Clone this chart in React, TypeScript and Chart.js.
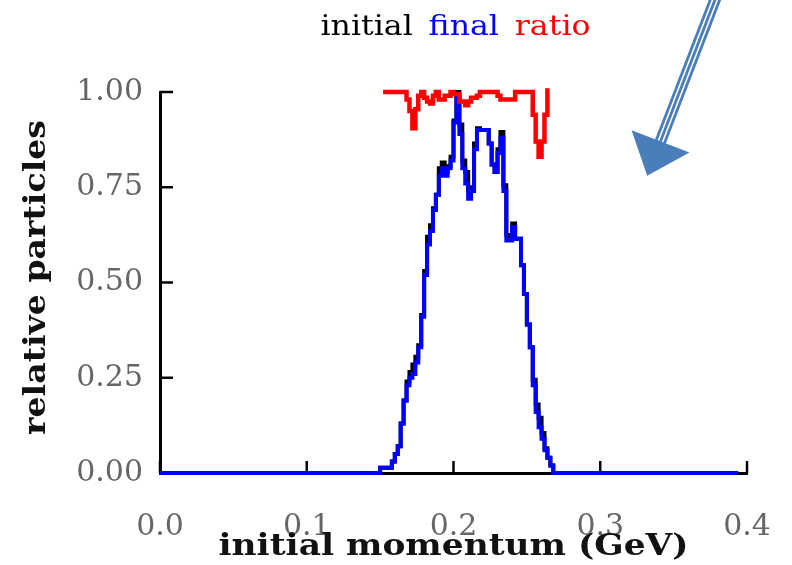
import React, { useEffect, useRef } from "react";
import { Chart, registerables } from "chart.js";

Chart.register(...registerables);

// ---- axes ----
const xTickValues = [0, 0.1, 0.2, 0.3, 0.4];
const yTickValues = [0, 0.25, 0.5, 0.75, 1];
const xTitle = "initial momentum (GeV)";
const yTitle = "relative particles";

// ---- histogram binning ----
const binStart = 0.15;
const binWidth = 0.002;
const baselineEnd = 0.394;

// final (blue) relative particles per bin, starting at binStart
const finalValues = [
  0.014, 0.014, 0.014, 0.014, 0.03, 0.05, 0.07, 0.13, 0.19, 0.23,
  0.25, 0.26, 0.29, 0.33, 0.41, 0.52, 0.6, 0.635, 0.69, 0.73,
  0.78, 0.8, 0.78, 0.8, 0.82, 0.92, 0.985, 0.89, 0.8, 0.76,
  0.72, 0.74, 0.85, 0.9, 0.9, 0.9, 0.9, 0.865, 0.81, 0.79,
  0.84, 0.88, 0.74, 0.61, 0.61, 0.645, 0.615, 0.615, 0.545, 0.47,
  0.39, 0.33, 0.23, 0.16, 0.12, 0.09, 0.06, 0.04, 0.02,
];

// initial (black) relative particles per bin, starting at binStart
const initialValues = [
  0.014, 0.014, 0.014, 0.014, 0.03, 0.05, 0.07, 0.13, 0.19, 0.24,
  0.265, 0.285, 0.305, 0.335, 0.415, 0.53, 0.62, 0.65, 0.695, 0.73,
  0.8, 0.815, 0.79, 0.805, 0.83, 0.925, 1.0, 0.915, 0.82, 0.79,
  0.74, 0.75, 0.865, 0.905, 0.9, 0.9, 0.9, 0.865, 0.81, 0.79,
  0.85, 0.895, 0.755, 0.625, 0.62, 0.655, 0.615, 0.615, 0.545, 0.47,
  0.39, 0.33, 0.245, 0.18, 0.145, 0.105, 0.065, 0.04, 0.02,
];

// ratio (red) per bin, starting at ratioStart
const ratioStart = 0.152;
const ratioValues = [
  1.0, 1.0, 1.0, 1.0, 1.0, 1.0, 1.0, 1.0,
  0.98, 0.95, 0.905, 0.955, 0.99, 1.0, 0.985, 0.975, 0.97, 0.99,
  1.0, 0.98, 0.98, 0.99, 0.99, 1.0, 0.995, 0.995, 0.975, 0.975,
  0.965, 0.975, 0.985, 0.985, 0.99, 1.0, 1.0, 1.0, 1.0, 1.0,
  1.0, 0.99, 0.98, 0.98, 0.98, 0.98, 0.98, 1.0, 1.0, 1.0,
  1.0, 1.0, 1.0, 0.94, 0.87, 0.83, 0.87, 0.94, 1.01,
];

const legendItems = [
  { text: "initial", color: "#000000" },
  { text: "final", color: "#0000ff" },
  { text: "ratio", color: "#ff0000" },
];

// annotation arrow, in data coordinates
const arrowTail = { x: 0.38, y: 1.26 };
const arrowTip = { x: 0.332, y: 0.78 };

const SERIF = "'DejaVu Serif', serif";

function histogramPoints(start: number, width: number, values: number[]) {
  const pts: { x: number; y: number }[] = [{ x: 0, y: 0 }];
  values.forEach((v, i) => pts.push({ x: start + i * width, y: v }));
  pts.push({ x: start + values.length * width, y: 0 });
  pts.push({ x: baselineEnd, y: 0 });
  return pts;
}

function ratioPoints(start: number, width: number, values: number[]) {
  return values.map((v, i) => ({ x: start + i * width, y: v }));
}

// draw text horizontally squeezed/stretched to a given width
function fittedText(
  ctx: CanvasRenderingContext2D,
  text: string,
  cx: number,
  cy: number,
  width: number,
  font: string,
  color: string,
  rotate = 0
) {
  ctx.save();
  ctx.font = font;
  ctx.fillStyle = color;
  ctx.textAlign = "center";
  ctx.textBaseline = "middle";
  const w = ctx.measureText(text).width;
  ctx.translate(cx, cy);
  if (rotate) ctx.rotate(rotate);
  ctx.scale(width / w, 1);
  ctx.fillText(text, 0, 0);
  ctx.restore();
}

const decorPlugin = {
  id: "decor",
  beforeDatasetsDraw(chart: any) {
    const { ctx, scales } = chart;
    const x = scales.x;
    const y = scales.y;
    ctx.save();
    ctx.strokeStyle = "#000";
    ctx.lineWidth = 2.5;
    for (const v of yTickValues) {
      const py = y.getPixelForValue(v);
      ctx.beginPath();
      ctx.moveTo(x.left, py);
      ctx.lineTo(x.left + 13, py);
      ctx.stroke();
    }
    for (const v of xTickValues) {
      const px = x.getPixelForValue(v);
      ctx.beginPath();
      ctx.moveTo(px, y.bottom);
      ctx.lineTo(px, y.bottom - 12);
      ctx.stroke();
    }
    ctx.restore();
  },
  afterDraw(chart: any) {
    const { ctx, scales } = chart;
    const x = scales.x;
    const y = scales.y;

    // axis titles
    fittedText(ctx, xTitle, (x.left + x.right) / 2, 547, 470, `bold 30px ${SERIF}`, "#111");
    fittedText(ctx, yTitle, 37, (y.top + y.bottom) / 2 - 5, 315, `bold 30px ${SERIF}`, "#111", -Math.PI / 2);

    // legend
    ctx.save();
    ctx.font = `28px ${SERIF}`;
    ctx.textBaseline = "middle";
    ctx.textAlign = "left";
    const totalTarget = 270;
    const gap = 14;
    const widths = legendItems.map((it) => ctx.measureText(it.text).width);
    const raw = widths.reduce((a, b) => a + b, 0) + gap * (legendItems.length - 1);
    const sx = totalTarget / raw;
    ctx.translate((x.left + x.right) / 2 + 2 - totalTarget / 2, 28);
    ctx.scale(sx, 1);
    let lx = 0;
    legendItems.forEach((it, i) => {
      ctx.fillStyle = it.color;
      ctx.fillText(it.text, lx, 0);
      lx += widths[i] + gap;
    });
    ctx.restore();

    // arrow
    ctx.save();
    const tx = x.getPixelForValue(arrowTail.x);
    const ty = y.getPixelForValue(arrowTail.y);
    const hx = x.getPixelForValue(arrowTip.x);
    const hy = y.getPixelForValue(arrowTip.y);
    const dx = hx - tx;
    const dy = hy - ty;
    const len = Math.hypot(dx, dy);
    const ux = dx / len;
    const uy = dy / len;
    const nx = -uy;
    const ny = ux;
    const headLen = 37;
    const headHalf = 31;
    const bx = hx - ux * headLen;
    const by = hy - uy * headLen;
    const color = "#4a7ebb";
    ctx.strokeStyle = color;
    ctx.lineWidth = 2.8;
    for (const off of [-4.4, 0, 4.4]) {
      ctx.beginPath();
      ctx.moveTo(tx + nx * off, ty + ny * off);
      ctx.lineTo(bx + ux * 4 + nx * off, by + uy * 4 + ny * off);
      ctx.stroke();
    }
    ctx.fillStyle = color;
    ctx.beginPath();
    ctx.moveTo(hx, hy);
    ctx.lineTo(bx + nx * headHalf, by + ny * headHalf);
    ctx.lineTo(bx - nx * headHalf, by - ny * headHalf);
    ctx.closePath();
    ctx.fill();
    ctx.restore();
  },
};

export default function App() {
  const canvasRef = useRef<HTMLCanvasElement | null>(null);

  useEffect(() => {
    document.body.style.margin = "0";
    const canvas = canvasRef.current;
    if (!canvas) return;
    const chart = new Chart(canvas, {
      type: "line",
      data: {
        datasets: [
          {
            label: "initial",
            data: histogramPoints(binStart, binWidth, initialValues),
            borderColor: "#000000",
            borderWidth: 4,
            stepped: true,
            pointRadius: 0,
            fill: false,
            clip: false,
            order: 3,
          },
          {
            label: "final",
            data: histogramPoints(binStart, binWidth, finalValues),
            borderColor: "#0000ff",
            borderWidth: 4,
            stepped: true,
            pointRadius: 0,
            fill: false,
            clip: false,
            order: 2,
          },
          {
            label: "ratio",
            data: ratioPoints(ratioStart, binWidth, ratioValues),
            borderColor: "#ff0000",
            borderWidth: 4.5,
            stepped: true,
            pointRadius: 0,
            fill: false,
            clip: false,
            order: 1,
          },
        ],
      },
      options: {
        animation: false,
        responsive: false,
        devicePixelRatio: 1,
        layout: { padding: { top: 92, right: 45, left: 0, bottom: 0 } },
        plugins: {
          legend: { display: false },
          tooltip: { enabled: false },
        },
        scales: {
          x: {
            type: "linear",
            min: 0,
            max: 0.4,
            afterFit: (s: any) => {
              s.height = 92;
              s.paddingLeft = 0;
              s.paddingRight = 0;
            },
            afterBuildTicks: (s: any) => {
              s.ticks = xTickValues.map((v) => ({ value: v }));
            },
            grid: { display: false, drawTicks: false },
            border: { display: true, color: "#000", width: 3 },
            ticks: {
              color: "#666",
              font: { family: SERIF, size: 30 },
              padding: 36,
              maxRotation: 0,
              callback: (v: any) => Number(v).toFixed(1),
            },
          },
          y: {
            type: "linear",
            min: 0,
            max: 1,
            afterFit: (s: any) => {
              s.width = 160;
              s.paddingTop = 0;
              s.paddingBottom = 0;
            },
            afterBuildTicks: (s: any) => {
              s.ticks = yTickValues.map((v) => ({ value: v }));
            },
            grid: { display: false, drawTicks: false },
            border: { display: true, color: "#000", width: 3 },
            ticks: {
              color: "#666",
              font: { family: SERIF, size: 30 },
              padding: 17,
              callback: (v: any) => Number(v).toFixed(2),
            },
          },
        },
      },
      plugins: [decorPlugin],
    } as any);
    return () => chart.destroy();
  }, []);

  return (
    <div style={{ position: "absolute", left: 0, top: 0, width: 792, height: 565 }}>
      <canvas ref={canvasRef} width={792} height={565} style={{ width: 792, height: 565, display: "block" }} />
    </div>
  );
}
